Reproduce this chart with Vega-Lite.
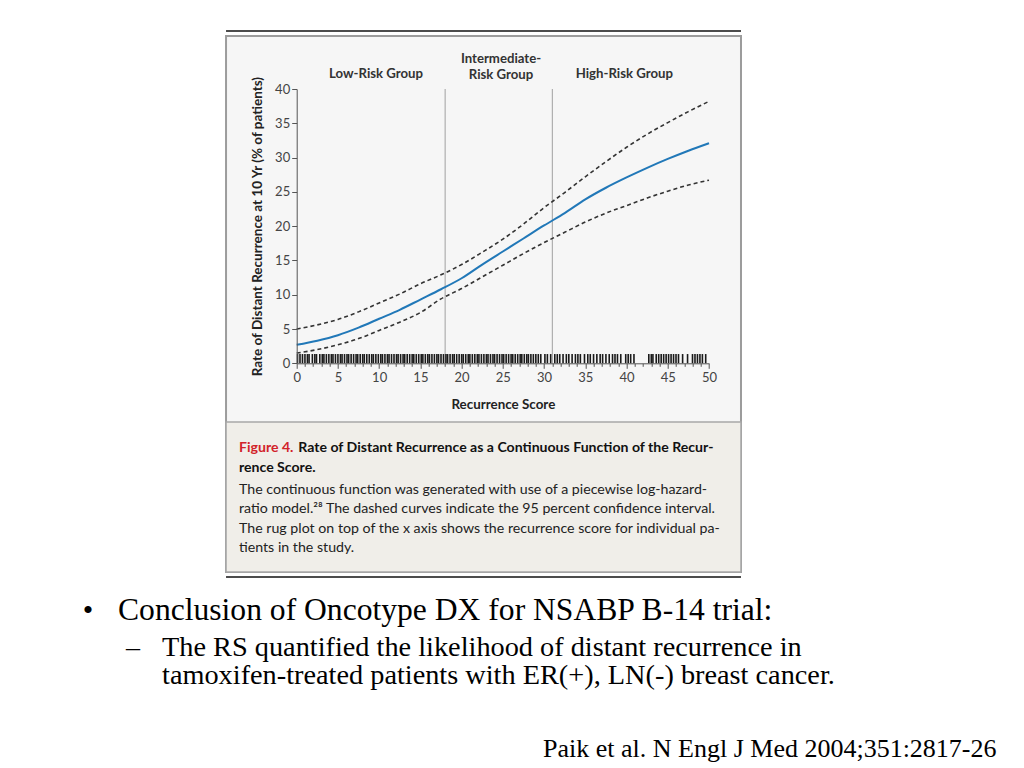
{
  "$schema": "https://vega.github.io/schema/vega-lite/v6.json",
  "width": 412.3,
  "height": 274.3,
  "autosize": "none",
  "padding": {"left": 296.7, "top": 89, "right": 315, "bottom": 404.7},
  "background": "white",
  "config": {
    "view": {"stroke": null},
    "font": "Lato"
  },
  "resolve": {"axis": {"x": "independent", "y": "independent"}},
  "datasets": {
    "curves": [
      {"score": 0, "est": 2.7, "upper": 5.0, "lower": 1.5},
      {"score": 2.5, "est": 3.3, "upper": 5.6, "lower": 2.0},
      {"score": 5, "est": 4.1, "upper": 6.4, "lower": 2.7},
      {"score": 7.5, "est": 5.2, "upper": 7.5, "lower": 3.6},
      {"score": 10, "est": 6.5, "upper": 8.8, "lower": 4.8},
      {"score": 12.5, "est": 7.8, "upper": 10.1, "lower": 6.0},
      {"score": 15, "est": 9.3, "upper": 11.6, "lower": 7.4},
      {"score": 17.5, "est": 10.8, "upper": 12.9, "lower": 9.4},
      {"score": 20, "est": 12.4, "upper": 14.4, "lower": 10.9},
      {"score": 22.5, "est": 14.4, "upper": 16.2, "lower": 12.6},
      {"score": 25, "est": 16.3, "upper": 18.1, "lower": 14.3},
      {"score": 27.5, "est": 18.2, "upper": 20.3, "lower": 16.0},
      {"score": 30, "est": 20.1, "upper": 22.7, "lower": 17.6},
      {"score": 32.5, "est": 21.9, "upper": 24.9, "lower": 19.1},
      {"score": 35, "est": 23.9, "upper": 27.2, "lower": 20.6},
      {"score": 37.5, "est": 25.6, "upper": 29.4, "lower": 21.9},
      {"score": 40, "est": 27.1, "upper": 31.5, "lower": 23.0},
      {"score": 42.5, "est": 28.5, "upper": 33.4, "lower": 24.1},
      {"score": 45, "est": 29.8, "upper": 35.1, "lower": 25.1},
      {"score": 47.5, "est": 31.0, "upper": 36.7, "lower": 26.0},
      {"score": 50, "est": 32.1, "upper": 38.2, "lower": 26.7}
    ],
    "rug": [
      {"rs": 0.1}, {"rs": 0.4}, {"rs": 0.7}, {"rs": 1.0}, {"rs": 1.3}, {"rs": 1.5}, {"rs": 1.9}, {"rs": 2.2}, {"rs": 2.4}, {"rs": 2.8},
      {"rs": 3.1}, {"rs": 3.3}, {"rs": 3.6}, {"rs": 3.9}, {"rs": 4.2}, {"rs": 4.4}, {"rs": 4.7}, {"rs": 5.0}, {"rs": 5.3}, {"rs": 5.5},
      {"rs": 5.8}, {"rs": 6.1}, {"rs": 6.3}, {"rs": 6.6}, {"rs": 6.9}, {"rs": 7.2}, {"rs": 7.4}, {"rs": 7.7}, {"rs": 8.0}, {"rs": 8.2},
      {"rs": 8.5}, {"rs": 8.8}, {"rs": 9.1}, {"rs": 9.3}, {"rs": 9.6}, {"rs": 9.9}, {"rs": 10.2}, {"rs": 10.4}, {"rs": 10.7}, {"rs": 11.0},
      {"rs": 11.2}, {"rs": 11.5}, {"rs": 11.8}, {"rs": 12.1}, {"rs": 12.3}, {"rs": 12.6}, {"rs": 12.9}, {"rs": 13.1}, {"rs": 13.4}, {"rs": 13.7},
      {"rs": 14.0}, {"rs": 14.2}, {"rs": 14.5}, {"rs": 14.8}, {"rs": 15.1}, {"rs": 15.3}, {"rs": 15.6}, {"rs": 15.9}, {"rs": 16.1}, {"rs": 16.4},
      {"rs": 16.7}, {"rs": 17.0}, {"rs": 17.2}, {"rs": 17.5}, {"rs": 17.8}, {"rs": 18.1}, {"rs": 18.3}, {"rs": 18.6}, {"rs": 18.9}, {"rs": 19.1},
      {"rs": 19.4}, {"rs": 19.7}, {"rs": 20.0}, {"rs": 20.2}, {"rs": 20.5}, {"rs": 20.8}, {"rs": 21.0}, {"rs": 21.3}, {"rs": 21.6}, {"rs": 21.9},
      {"rs": 22.1}, {"rs": 22.4}, {"rs": 22.7}, {"rs": 23.0}, {"rs": 23.2}, {"rs": 23.5}, {"rs": 23.8}, {"rs": 24.0}, {"rs": 24.3}, {"rs": 24.6},
      {"rs": 24.9}, {"rs": 25.1}, {"rs": 25.4}, {"rs": 25.7}, {"rs": 26.0}, {"rs": 26.2}, {"rs": 26.5}, {"rs": 26.8}, {"rs": 27.1}, {"rs": 27.3},
      {"rs": 27.6}, {"rs": 27.9}, {"rs": 28.1}, {"rs": 28.4}, {"rs": 28.7}, {"rs": 29.0}, {"rs": 29.3}, {"rs": 29.6},
      {"rs": 30.1}, {"rs": 30.4}, {"rs": 30.8}, {"rs": 31.3}, {"rs": 31.6}, {"rs": 31.9}, {"rs": 32.3}, {"rs": 32.7}, {"rs": 33.0}, {"rs": 33.4},
      {"rs": 33.8}, {"rs": 34.1}, {"rs": 34.4}, {"rs": 34.9}, {"rs": 35.3}, {"rs": 35.6}, {"rs": 36.0}, {"rs": 36.4}, {"rs": 36.8}, {"rs": 37.1},
      {"rs": 37.5}, {"rs": 37.9}, {"rs": 38.3}, {"rs": 38.6},
      {"rs": 38.9}, {"rs": 39.3}, {"rs": 39.9}, {"rs": 40.2}, {"rs": 40.5}, {"rs": 40.9}, {"rs": 42.7}, {"rs": 43.0}, {"rs": 43.2}, {"rs": 43.6},
      {"rs": 43.9}, {"rs": 44.2}, {"rs": 44.5}, {"rs": 44.8}, {"rs": 45.1}, {"rs": 45.4}, {"rs": 45.7}, {"rs": 46.0}, {"rs": 46.3}, {"rs": 46.8},
      {"rs": 47.4}, {"rs": 48.0}, {"rs": 48.3}, {"rs": 48.6}, {"rs": 48.9}, {"rs": 49.2}, {"rs": 49.6}
    ],
    "cutoffs": [{"score": 18}, {"score": 31}],
    "one": [{}]
  },
  "layer": [
    {
      "data": {"name": "one"},
      "mark": {"type": "rect", "fill": "#f6f6f6", "stroke": "#9c9c9c", "strokeWidth": 2},
      "encoding": {
        "x": {
          "datum": -8.57,
          "type": "quantitative",
          "scale": {"domain": [0, 50], "nice": false, "zero": false},
          "axis": {
            "orient": "bottom",
            "zindex": 1,
            "grid": false,
            "title": "Recurrence Score",
            "titleFont": "Lato",
            "titleFontSize": 13.4,
            "titleFontWeight": "bold",
            "titleColor": "#222",
            "values": [0,1,2,3,4,5,6,7,8,9,10,11,12,13,14,15,16,17,18,19,20,21,22,23,24,25,26,27,28,29,30,31,32,33,34,35,36,37,38,39,40,41,42,43,44,45,46,47,48,49,50],
            "labelExpr": "datum.value % 5 === 0 ? datum.label : ''",
            "labelOverlap": false,
            "labelBound": false,
            "labelFlush": false,
            "labelFont": "Lato",
            "labelFontSize": 13,
            "labelColor": "#444",
            "domainColor": "#555",
            "tickColor": "#555",
            "tickSize": {"condition": {"test": "datum.value % 5 === 0", "value": 5}, "value": 3},
            "labelPadding": 3,
            "titlePadding": 13
          }
        },
        "x2": {"datum": 53.88},
        "y": {
          "datum": 47.73,
          "type": "quantitative",
          "scale": {"domain": [0, 40], "nice": false, "zero": false},
          "axis": {
            "orient": "left",
            "zindex": 1,
            "grid": false,
            "title": "Rate of Distant Recurrence at 10 Yr (% of patients)",
            "titleFont": "Lato",
            "titleFontSize": 13.5,
            "titleFontWeight": "bold",
            "titleColor": "#222",
            "values": [0, 5, 10, 15, 20, 25, 30, 35, 40],
            "labelOverlap": false,
            "labelFont": "Lato",
            "labelFontSize": 13,
            "labelColor": "#444",
            "domainColor": "#555",
            "tickColor": "#555",
            "tickSize": 5,
            "labelPadding": 2,
            "titlePadding": 10
          }
        },
        "y2": {"datum": -30.43}
      }
    },
    {
      "data": {"name": "one"},
      "mark": {"type": "rect", "fill": "#f0eee9", "stroke": "#a8a8a8", "strokeWidth": 1.5},
      "encoding": {
        "x": {"datum": -8.57, "type": "quantitative", "axis": null},
        "x2": {"datum": 53.88},
        "y": {"datum": -8.56, "type": "quantitative", "axis": null},
        "y2": {"datum": -30.43}
      }
    },
    {
      "data": {"name": "one"},
      "mark": {"type": "rule", "color": "#111", "strokeWidth": 1.5},
      "encoding": {
        "x": {"datum": -8.57, "type": "quantitative", "axis": null},
        "x2": {"datum": 53.88},
        "y": {"datum": 48.45, "type": "quantitative", "axis": null}
      }
    },
    {
      "data": {"name": "one"},
      "mark": {"type": "rule", "color": "#111", "strokeWidth": 1.5},
      "encoding": {
        "x": {"datum": -8.57, "type": "quantitative", "axis": null},
        "x2": {"datum": 53.88},
        "y": {"datum": -31.16, "type": "quantitative", "axis": null}
      }
    },
    {
      "data": {"name": "cutoffs"},
      "mark": {"type": "rule", "color": "#a0a0a0", "strokeWidth": 1},
      "encoding": {
        "x": {"field": "score", "type": "quantitative", "axis": null},
        "y": {"datum": 0, "type": "quantitative", "axis": null},
        "y2": {"datum": 40}
      }
    },
    {
      "data": {"name": "rug"},
      "mark": {"type": "rule", "color": "#1a1a1a", "strokeWidth": 1.6},
      "encoding": {
        "x": {"field": "rs", "type": "quantitative", "axis": null},
        "y": {"datum": 0, "type": "quantitative", "axis": null},
        "y2": {"datum": 1.35}
      }
    },
    {
      "data": {"name": "curves"},
      "mark": {"type": "line", "color": "#333", "strokeWidth": 1.6, "strokeDash": [4, 3], "interpolate": "monotone"},
      "encoding": {
        "x": {"field": "score", "type": "quantitative", "axis": null},
        "y": {"field": "upper", "type": "quantitative", "axis": null}
      }
    },
    {
      "data": {"name": "curves"},
      "mark": {"type": "line", "color": "#333", "strokeWidth": 1.6, "strokeDash": [4, 3], "interpolate": "monotone"},
      "encoding": {
        "x": {"field": "score", "type": "quantitative", "axis": null},
        "y": {"field": "lower", "type": "quantitative", "axis": null}
      }
    },
    {
      "data": {"name": "curves"},
      "mark": {"type": "line", "color": "#2178b8", "strokeWidth": 2, "interpolate": "monotone"},
      "encoding": {
        "x": {"field": "score", "type": "quantitative", "axis": null},
        "y": {"field": "est", "type": "quantitative", "axis": null}
      }
    },
    {
      "data": {"name": "one"},
      "mark": {"type": "text", "text": "Low-Risk Group", "font": "Lato", "fontWeight": "bold", "fontSize": 13.2, "color": "#333", "align": "center", "baseline": "alphabetic"},
      "encoding": {"x": {"datum": 9.62, "type": "quantitative", "axis": null}, "y": {"datum": 41.56, "type": "quantitative", "axis": null}}
    },
    {
      "data": {"name": "one"},
      "mark": {"type": "text", "text": ["Intermediate-", "Risk Group"], "lineHeight": 16, "font": "Lato", "fontWeight": "bold", "fontSize": 13.2, "color": "#333", "align": "center", "baseline": "alphabetic"},
      "encoding": {"x": {"datum": 24.78, "type": "quantitative", "axis": null}, "y": {"datum": 43.74, "type": "quantitative", "axis": null}}
    },
    {
      "data": {"name": "one"},
      "mark": {"type": "text", "text": "High-Risk Group", "font": "Lato", "fontWeight": "bold", "fontSize": 13.2, "color": "#333", "align": "center", "baseline": "alphabetic"},
      "encoding": {"x": {"datum": 39.73, "type": "quantitative", "axis": null}, "y": {"datum": 41.56, "type": "quantitative", "axis": null}}
    },
    {
      "data": {"name": "one"},
      "mark": {"type": "text", "text": "Figure 4.", "font": "Lato", "fontWeight": "bold", "fontSize": 14.1, "color": "#d2232a", "align": "left", "baseline": "alphabetic"},
      "encoding": {"x": {"datum": -7.0, "type": "quantitative", "axis": null}, "y": {"datum": -12.98, "type": "quantitative", "axis": null}}
    },
    {
      "data": {"name": "one"},
      "mark": {"type": "text", "text": "Rate of Distant Recurrence as a Continuous Function of the Recur-", "font": "Lato", "fontWeight": "bold", "fontSize": 14.1, "color": "#111", "align": "left", "baseline": "alphabetic"},
      "encoding": {"x": {"datum": 0.19, "type": "quantitative", "axis": null}, "y": {"datum": -12.98, "type": "quantitative", "axis": null}}
    },
    {
      "data": {"name": "one"},
      "mark": {"type": "text", "text": "rence Score.", "font": "Lato", "fontWeight": "bold", "fontSize": 14.1, "color": "#111", "align": "left", "baseline": "alphabetic"},
      "encoding": {"x": {"datum": -7.0, "type": "quantitative", "axis": null}, "y": {"datum": -15.79, "type": "quantitative", "axis": null}}
    },
    {
      "data": {"name": "one"},
      "mark": {
        "type": "text",
        "text": [
          "The continuous function was generated with use of a piecewise log-hazard-",
          "ratio model.²⁸ The dashed curves indicate the 95 percent confidence interval.",
          "The rug plot on top of the x axis shows the recurrence score for individual pa-",
          "tients in the study."
        ],
        "lineHeight": 19.3,
        "font": "Lato",
        "fontSize": 14.2,
        "color": "#222",
        "align": "left",
        "baseline": "alphabetic"
      },
      "encoding": {"x": {"datum": -7.0, "type": "quantitative", "axis": null}, "y": {"datum": -19.06, "type": "quantitative", "axis": null}}
    },
    {
      "data": {"name": "one"},
      "mark": {"type": "text", "text": "•", "font": "Liberation Serif", "fontSize": 30, "color": "#000", "align": "center", "baseline": "alphabetic"},
      "encoding": {"x": {"datum": -25.31, "type": "quantitative", "axis": null}, "y": {"datum": -37.43, "type": "quantitative", "axis": null}}
    },
    {
      "data": {"name": "one"},
      "mark": {"type": "text", "text": "Conclusion of Oncotype DX for NSABP B-14 trial:", "font": "Liberation Serif", "fontSize": 31.6, "color": "#000", "align": "left", "baseline": "alphabetic"},
      "encoding": {"x": {"datum": -21.67, "type": "quantitative", "axis": null}, "y": {"datum": -37.43, "type": "quantitative", "axis": null}}
    },
    {
      "data": {"name": "one"},
      "mark": {"type": "text", "text": "–", "font": "Liberation Serif", "fontSize": 28, "color": "#000", "align": "center", "baseline": "alphabetic"},
      "encoding": {"x": {"datum": -19.85, "type": "quantitative", "axis": null}, "y": {"datum": -42.68, "type": "quantitative", "axis": null}}
    },
    {
      "data": {"name": "one"},
      "mark": {
        "type": "text",
        "text": ["The RS quantified the likelihood of distant recurrence in", "tamoxifen-treated patients with ER(+), LN(-) breast cancer."],
        "lineHeight": 28,
        "font": "Liberation Serif",
        "fontSize": 28.3,
        "color": "#000",
        "align": "left",
        "baseline": "alphabetic"
      },
      "encoding": {"x": {"datum": -16.33, "type": "quantitative", "axis": null}, "y": {"datum": -42.68, "type": "quantitative", "axis": null}}
    },
    {
      "data": {"name": "one"},
      "mark": {"type": "text", "text": "Paik  et al. N Engl J Med 2004;351:2817-26", "font": "Liberation Serif", "fontSize": 26, "color": "#000", "align": "left", "baseline": "alphabetic"},
      "encoding": {"x": {"datum": 29.87, "type": "quantitative", "axis": null}, "y": {"datum": -57.41, "type": "quantitative", "axis": null}}
    }
  ]
}
